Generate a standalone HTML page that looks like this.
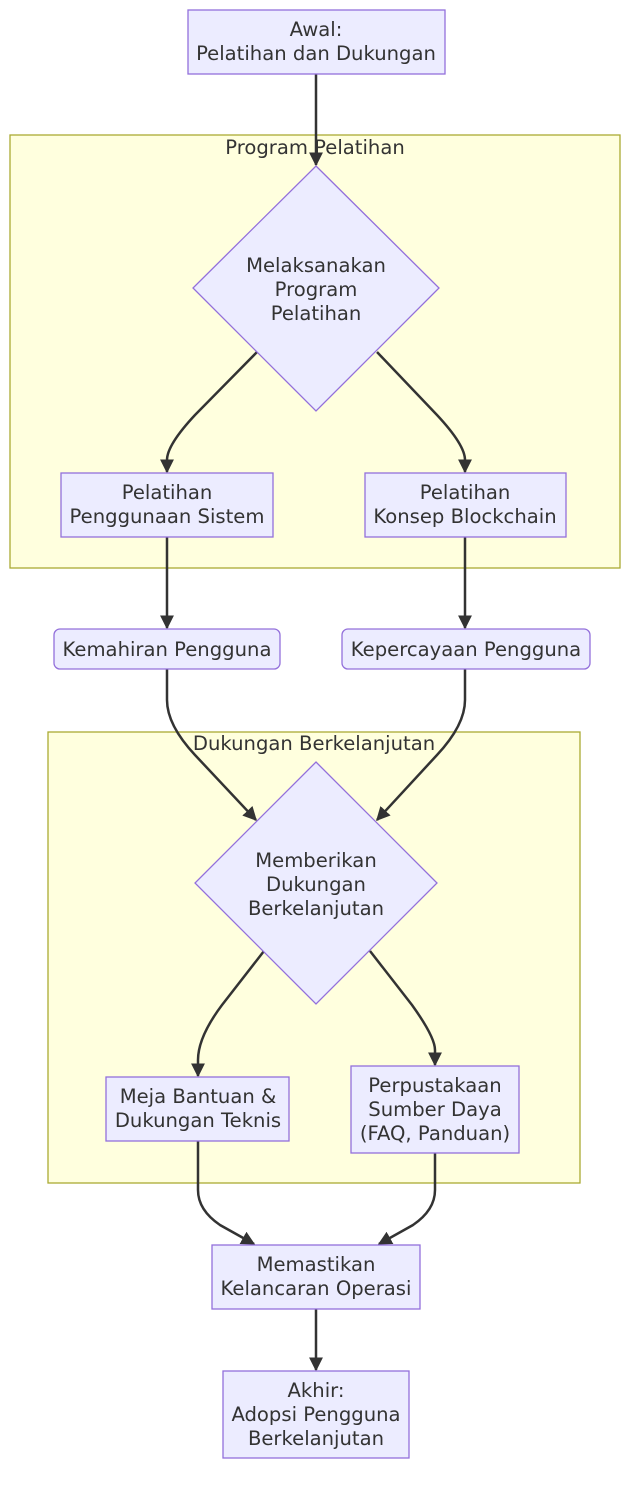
<!DOCTYPE html>
<html><head><meta charset="utf-8"><style>
html,body{margin:0;padding:0;background:#fff;}
svg{display:block;}
text{font-family:"DejaVu Sans","Liberation Sans",sans-serif;font-size:19.6px;fill:#333;text-anchor:middle;}
.n{fill:#ECECFF;stroke:#9370DB;stroke-width:1.3;}
.c{fill:#FFFFDE;stroke:#AAAA33;stroke-width:1.3;}
.e{fill:none;stroke:#333;stroke-width:2.5;}
</style></head><body>
<svg width="640" height="1492" viewBox="0 0 640 1492" xmlns="http://www.w3.org/2000/svg">
<defs><marker id="a" viewBox="0 0 10 10" refX="9" refY="5" markerWidth="5.6" markerHeight="5.6" markerUnits="strokeWidth" orient="auto"><path d="M0,0 L10,5 L0,10 z" fill="#333"/></marker></defs>
<rect class="c" x="10" y="135" width="610" height="433"/>
<rect class="c" x="48" y="732" width="532" height="451"/>
<text x="315" y="154">Program Pelatihan</text>
<text x="314" y="750">Dukungan Berkelanjutan</text>

<g class="e" marker-end="url(#a)">
<path d="M316,74 L316,165"/>
<path d="M257,352 L195,415 Q167,445 167,460 L167,472"/>
<path d="M377,352 L437,415 Q465,445 465,460 L465,472"/>
<path d="M167,537 L167,628"/>
<path d="M465,537 L465,628"/>
<path d="M167,669 L167,700 Q167,725 195,755 L256,820"/>
<path d="M465,669 L465,700 Q465,725 437,755 L377,820"/>
<path d="M264,951 L222,1005 Q198,1037 198,1060 L198,1076"/>
<path d="M370,951 L412,1005 Q435,1037 435,1050 L435,1065"/>
<path d="M198,1141 L198,1190 Q198,1210 220,1225 L254,1244"/>
<path d="M435,1153 L435,1190 Q435,1210 413,1225 L379,1244"/>
<path d="M316,1309 L316,1370"/>
</g>

<rect class="n" x="188" y="10" width="257" height="64"/>
<text x="316" y="36">Awal:</text><text x="316" y="60">Pelatihan dan Dukungan</text>

<polygon class="n" points="316,166 439,288 316,411 193,288"/>
<text x="316" y="272">Melaksanakan</text><text x="316" y="296">Program</text><text x="316" y="320">Pelatihan</text>

<rect class="n" x="61" y="473" width="212" height="64"/>
<text x="167" y="499">Pelatihan</text><text x="167" y="523">Penggunaan Sistem</text>
<rect class="n" x="365" y="473" width="201" height="64"/>
<text x="465" y="499">Pelatihan</text><text x="465" y="523">Konsep Blockchain</text>

<rect class="n" x="54" y="629" width="226" height="40" rx="6"/>
<text x="167" y="656">Kemahiran Pengguna</text>
<rect class="n" x="342" y="629" width="248" height="40" rx="6"/>
<text x="466" y="656">Kepercayaan Pengguna</text>

<polygon class="n" points="316,762 437,883 316,1004 195,883"/>
<text x="316" y="867">Memberikan</text><text x="316" y="891">Dukungan</text><text x="316" y="915">Berkelanjutan</text>

<rect class="n" x="106" y="1077" width="183" height="64"/>
<text x="198" y="1103">Meja Bantuan &amp;</text><text x="198" y="1127">Dukungan Teknis</text>
<rect class="n" x="351" y="1066" width="168" height="87"/>
<text x="435" y="1092">Perpustakaan</text><text x="435" y="1116">Sumber Daya</text><text x="435" y="1140">(FAQ, Panduan)</text>

<rect class="n" x="212" y="1245" width="208" height="64"/>
<text x="316" y="1271">Memastikan</text><text x="316" y="1295">Kelancaran Operasi</text>

<rect class="n" x="223" y="1371" width="186" height="87"/>
<text x="316" y="1397">Akhir:</text><text x="316" y="1421">Adopsi Pengguna</text><text x="316" y="1445">Berkelanjutan</text>
</svg>
</body></html>
